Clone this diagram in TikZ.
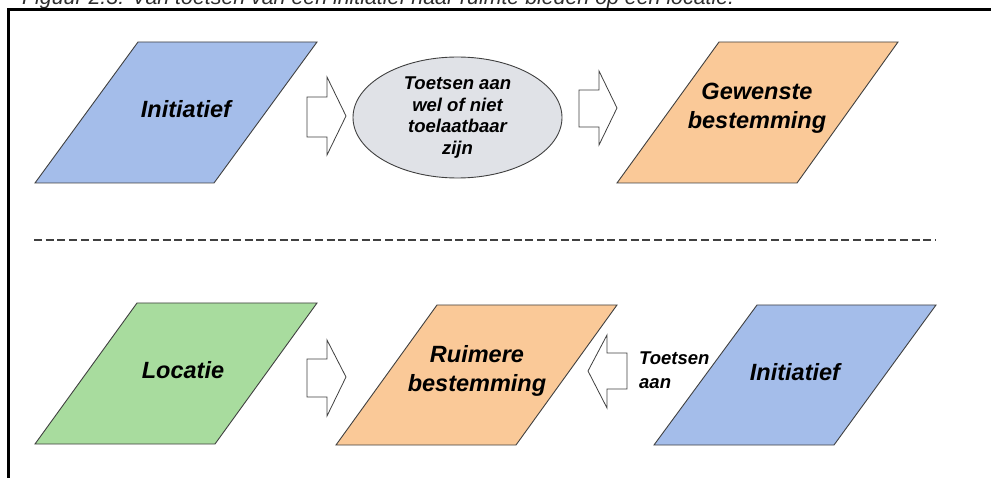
\documentclass[tikz,border=0pt]{standalone}
\usepackage{fontspec}
\setmainfont{Liberation Sans}
\usetikzlibrary{shapes.geometric}
\definecolor{blueface}{RGB}{164,189,234}
\definecolor{orangeface}{RGB}{250,201,152}
\definecolor{greenface}{RGB}{168,220,158}
\definecolor{grayface}{RGB}{224,226,231}
\definecolor{edgegray}{RGB}{64,64,64}
\definecolor{captiongray}{RGB}{45,45,45}
\begin{document}
\begin{tikzpicture}[x=1pt,y=-1pt,
  shapeline/.style={draw=edgegray, line width=0.9pt, line join=miter},
  blockarrow/.style={draw=edgegray, line width=0.8pt, fill=white, line join=miter},
  biglabel/.style={font=\bfseries\itshape\fontsize{23.5}{28.5}\selectfont, align=center, inner sep=0pt},
  smalllabel/.style={font=\bfseries\itshape\fontsize{18.5}{21.8}\selectfont, align=center, inner sep=0pt}]
\useasboundingbox (0,0) rectangle (991,478);
\clip (0,0) rectangle (991,478);

% caption, cut off by the top edge
\node[anchor=base west, inner sep=0pt, text=captiongray] (caption) at (22,5)
  {\resizebox{712pt}{!}{\itshape\fontsize{16}{18}\selectfont Figuur 2.3: Van toetsen van een initiatief naar ruimte bieden op een locatie.}};

% frame
\draw[line width=2.4pt, line cap=rect] (8.5,478) -- (8.5,9.5) -- (991,9.5);

% ---------- upper row ----------
\filldraw[shapeline, fill=blueface] (35,183) -- (214,183) -- (317,42) -- (138,42) -- cycle;
\node[biglabel] (init1) at (186,109) {Initiatief};

\draw[blockarrow] (307,97) -- (327,97) -- (327,77) -- (346,116) -- (327,155) -- (327,137) -- (307,137) -- cycle;

\node[ellipse, shapeline, fill=grayface, minimum width=209pt, minimum height=121pt,
      inner sep=0pt, smalllabel] (check) at (457.5,117.5)
  {Toetsen aan\\wel of niet\\toelaatbaar\\zijn};

\draw[blockarrow] (579,90) -- (599,90) -- (599,71) -- (617,108) -- (599,145) -- (599,127) -- (579,127) -- cycle;

\filldraw[shapeline, fill=orangeface] (617,183) -- (797,183) -- (898,42) -- (719,42) -- cycle;
\node[biglabel] (wanted) at (757,108) {Gewenste\\bestemming};

% separator
\draw[edgegray, line width=1.3pt, dash pattern=on 8pt off 3.7pt] (34,240) -- (935,240);

% ---------- lower row ----------
\filldraw[shapeline, fill=greenface] (35,444) -- (215,444) -- (317,303) -- (137,303) -- cycle;
\node[biglabel] (site) at (183,370) {Locatie};

\draw[blockarrow] (307,359) -- (327,359) -- (327,340) -- (346,377) -- (327,416) -- (327,397) -- (307,397) -- cycle;

\filldraw[shapeline, fill=orangeface] (336,445) -- (516,445) -- (617,305) -- (437,305) -- cycle;
\node[biglabel] (wider) at (477,371) {Ruimere\\bestemming};

\draw[blockarrow] (627,353) -- (607,353) -- (607,335) -- (588,371) -- (607,408) -- (607,389) -- (627,389) -- cycle;
\node[smalllabel, align=left, anchor=west, font=\bfseries\itshape\fontsize{18.5}{24}\selectfont] (test) at (639,370) {Toetsen\\aan};

\filldraw[shapeline, fill=blueface] (654,445) -- (834,445) -- (936,305) -- (757,305) -- cycle;
\node[biglabel] (init2) at (795,372) {Initiatief};
\end{tikzpicture}
\end{document}
